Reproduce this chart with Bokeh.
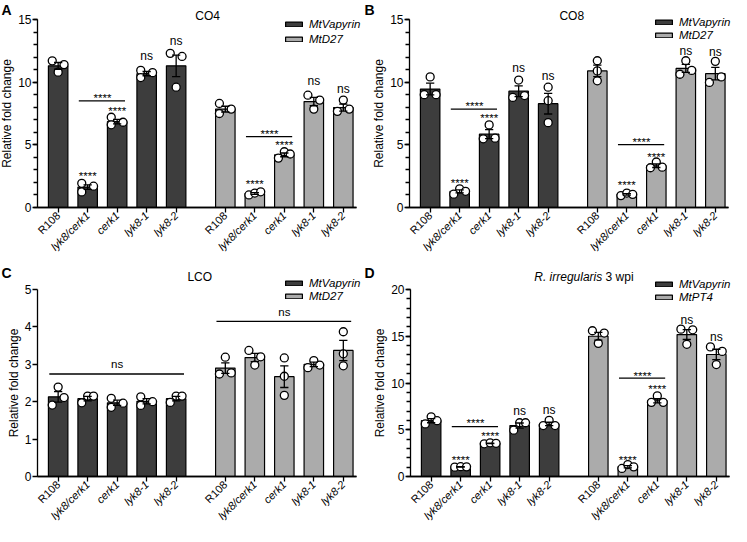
import math
from bokeh.plotting import figure
from bokeh.models import (Range1d, FixedTicker, SingleIntervalTicker, Label, Legend, LegendItem, LinearAxis)
from bokeh.layouts import row, column
from bokeh.embed import file_html
from bokeh.resources import INLINE

FONT = "Liberation Sans"
DARK = "#3d3d3d"
LIGHT = "#ababab"

CATEGORIES = ["R108", "lyk8/cerk1", "cerk1", "lyk8-1", "lyk8-2"]
CATEGORY_ITALIC = [False, True, True, True, True]

# ---------------- Panel A : CO4 ----------------
A_title = [("CO4", "normal")]
A_series = ["MtVapyrin", "MtD27"]
A_vap_mean = [11.3, 1.63, 6.85, 10.68, 11.3]
A_vap_sem = [0.27, 0.18, 0.18, 0.17, 0.86]
A_vap_points = [[11.7, 10.8, 11.4], [1.93, 1.24, 1.7], [7.2, 6.6, 6.8], [10.94, 10.37, 10.76], [12.3, 9.6, 12.05]]
A_vap_jitter = [[-1, 0, 1], [-1, -1, 1], [-1, -1, 1], [-1, -1, 1], [-1, 0, 1]]
A_d27_mean = [7.85, 1.12, 4.2, 8.45, 7.97]
A_d27_sem = [0.23, 0.07, 0.15, 0.33, 0.28]
A_d27_points = [[8.3, 7.5, 7.85], [1.0, 1.15, 1.25], [3.94, 4.45, 4.27], [8.96, 7.85, 8.57], [8.57, 7.67, 7.85]]
A_d27_jitter = [[-1, -1, 1], [-1, 0, 1], [-1, 0, 1], [-1, 0, 1], [0, -1, 1]]
A_stars = [(1, 2.7), (2, 7.93), (6, 2.08), (7, 5.22)]
A_ns = [(3, 12.05), (4, 13.26), (8, 10.12), (9, 9.47)]
A_brackets = [(1, 2, 8.5, "****", 8.96), (6, 7, 5.66, "****", 6.12)]

# ---------------- Panel B : CO8 ----------------
B_title = [("CO8", "normal")]
B_series = ["MtVapyrin", "MtD27"]
B_vap_mean = [9.45, 1.28, 5.85, 9.28, 8.28]
B_vap_sem = [0.47, 0.12, 0.36, 0.43, 0.82]
B_vap_points = [[10.42, 9.0, 9.0], [1.06, 1.49, 1.29], [6.59, 5.48, 5.53], [10.17, 8.78, 8.93], [9.6, 8.52, 6.77]]
B_vap_jitter = [[0, -1, 1], [-1, 0, 1], [0, -1, 1], [0, -1, 1], [0, 0, 0]]
B_d27_mean = [10.9, 1.05, 3.33, 11.1, 10.68]
B_d27_sem = [0.46, 0.06, 0.14, 0.32, 0.5]
B_d27_points = [[11.71, 10.9, 10.11], [0.95, 1.15, 1.05], [3.17, 3.63, 3.22], [11.71, 10.63, 10.94], [11.66, 9.98, 10.42]]
B_d27_jitter = [[0, 0, 0], [-1, 0, 1], [-1, 0, 1], [0, -1, 1], [0, -1, 1]]
B_stars = [(1, 2.19), (2, 7.34), (6, 2.0), (7, 4.27)]
B_ns = [(3, 11.1), (4, 10.5), (8, 12.5), (9, 12.4)]
B_brackets = [(1, 2, 7.85, "****", 8.3), (6, 7, 5.02, "****", 5.48)]

# ---------------- Panel C : LCO ----------------
C_title = [("LCO", "normal")]
C_series = ["MtVapyrin", "MtD27"]
C_vap_mean = [2.13, 2.08, 1.97, 2.01, 2.08]
C_vap_sem = [0.14, 0.06, 0.07, 0.07, 0.06]
C_vap_points = [[2.39, 1.91, 2.11], [1.97, 2.15, 2.15], [2.09, 1.85, 1.96], [2.13, 1.9, 2.0], [1.98, 2.15, 2.15]]
C_vap_jitter = [[0, -1, 1], [-1, 0, 1], [-1, -1, 1], [-1, -1, 1], [-1, 0, 1]]
C_d27_mean = [2.9, 3.18, 2.67, 3.0, 3.37]
C_d27_sem = [0.14, 0.11, 0.29, 0.06, 0.27]
C_d27_points = [[3.19, 2.74, 2.77], [3.37, 2.98, 3.2], [3.17, 2.68, 2.17], [2.91, 3.1, 2.98], [3.87, 3.28, 2.96]]
C_d27_jitter = [[0, -1, 1], [-1, 0, 1], [0, 0, 0], [-1, 0, 1], [0, 0, 0]]
C_stars = []
C_ns = []
C_brackets = [(0, 4, 2.74, "ns", 3.02), (5, 9, 4.15, "ns", 4.41)]

# ---------------- Panel D : R. irregularis 3 wpi ----------------
D_title = [("R. irregularis", "italic"), ("\u00a03 wpi", "normal")]
D_series = ["MtVapyrin", "MtPT4"]
D_vap_mean = [5.97, 1.03, 3.55, 5.45, 5.62]
D_vap_sem = [0.22, 0.03, 0.03, 0.27, 0.18]
D_vap_points = [[6.38, 5.62, 5.97], [1.0, 1.05, 1.03], [3.5, 3.6, 3.55], [4.95, 5.75, 5.75], [5.45, 6.0, 5.45]]
D_vap_jitter = [[0, -1, 1], [-1, 0, 1], [-1, 0, 1], [-1, 0, 1], [-1, 0, 1]]
D_pt4_mean = [15.0, 1.05, 8.1, 15.18, 13.05]
D_pt4_sem = [0.41, 0.12, 0.23, 0.53, 0.56]
D_pt4_points = [[15.59, 14.24, 15.34], [0.86, 1.28, 1.03], [7.93, 8.62, 7.93], [15.76, 14.14, 15.69], [13.86, 11.97, 13.38]]
D_pt4_jitter = [[-1, 0, 1], [-1, 0, 1], [-1, 0, 1], [-1, 0, 1], [-1, 0, 1]]
D_stars = [(1, 2.07), (2, 4.66), (6, 2.07), (7, 9.66)]
D_ns = [(3, 6.97), (4, 7.14), (8, 16.7), (9, 14.93)]
D_brackets = [(1, 2, 5.34, "****", 5.97), (6, 7, 10.52, "****", 11.03)]

# ---------------- layout constants ----------------
POS = [0, 3, 6, 9, 12, 17, 20, 23, 26, 29]   # category slots (3 units per bar step)
X0, X1 = -2.1, 30.33                          # x-axis extent in data units
PPX = 29.5 / 3                                # pixels per x unit
JIT = 0.6
BAR_W = 1.98
CAP = 0.42


def make_panel(letter, title, series, m1, s1, pts1, jit1, m2, s2, pts2, jit2,
               ymax, major, nminor, stars, ns, brackets,
               W, H, ax_px, y0_px, ytop_px, letter_y, title_cy, title_x,
               leg_x, leg_c1, leg_gap):
    ppu = (y0_px - ytop_px) / ymax
    xr = Range1d(X0 - ax_px / PPX, X0 + (W - ax_px) / PPX)
    yr = Range1d(-(H - y0_px) / ppu, ymax + ytop_px / ppu)
    p = figure(width=W, height=H, x_range=xr, y_range=yr, x_axis_type=None, y_axis_type=None,
               output_backend="svg", toolbar_location=None, title=None,
               min_border_left=0, min_border_right=0, min_border_top=0, min_border_bottom=0)
    p.xgrid.visible = False
    p.ygrid.visible = False
    p.outline_line_color = None
    p.background_fill_color = "white"
    p.border_fill_color = "white"

    def py_(px_from_top):  # canvas pixel row -> data y
        return ymax + (ytop_px - px_from_top) / ppu

    r1 = p.vbar(x=POS[:5], top=m1, bottom=0, width=BAR_W, fill_color=DARK,
                line_color="black", line_width=1.2)
    r2 = p.vbar(x=POS[5:], top=m2, bottom=0, width=BAR_W, fill_color=LIGHT,
                line_color="black", line_width=1.2)

    for pos, pts, jit in ((POS[:5], pts1, jit1), (POS[5:], pts2, jit2)):
        px = [pos[i] + JIT * jit[i][k] for i in range(5) for k in range(3)]
        py = [pts[i][k] for i in range(5) for k in range(3)]
        p.scatter(px, py, marker="circle", size=8, fill_color="white",
                  line_color="black", line_width=1.3)

    for pos, m, s in ((POS[:5], m1, s1), (POS[5:], m2, s2)):
        lo = [a - b for a, b in zip(m, s)]
        hi = [a + b for a, b in zip(m, s)]
        p.segment(x0=pos, y0=lo, x1=pos, y1=hi, line_color="black", line_width=1.3)
        p.segment(x0=[x - CAP for x in pos], y0=hi, x1=[x + CAP for x in pos], y1=hi,
                  line_color="black", line_width=1.3)
        p.segment(x0=[x - CAP for x in pos], y0=lo, x1=[x + CAP for x in pos], y1=lo,
                  line_color="black", line_width=1.3)

    # significance annotations
    star_shift = 2.8 / ppu
    for (i, j, y, txt, ty) in brackets:
        p.segment(x0=[POS[i] - 0.9], y0=[y], x1=[POS[j] + 0.8], y1=[y],
                  line_color="black", line_width=1.3)
        ty2 = ty - star_shift if txt.startswith("*") else ty
        p.add_layout(Label(x=(POS[i] + POS[j]) / 2, y=ty2, text=txt, text_align="center",
                           text_baseline="middle", text_font=FONT, text_font_size="11.5px",
                           text_color="black"))
    for (i, y) in stars:
        p.add_layout(Label(x=POS[i], y=y - star_shift, text="****", text_align="center",
                           text_baseline="middle", text_font=FONT, text_font_size="11.5px",
                           text_color="black"))
    for (i, y) in ns:
        p.add_layout(Label(x=POS[i], y=y, text="ns", text_align="center",
                           text_baseline="middle", text_font=FONT, text_font_size="12px",
                           text_color="black"))

    # y axis at a fixed location
    ya = LinearAxis(fixed_location=X0, bounds=(0, ymax),
                    ticker=SingleIntervalTicker(interval=major, num_minor_ticks=nminor))
    ya.axis_line_width = 1.3
    ya.major_tick_line_width = 1.3
    ya.minor_tick_line_width = 1.3
    ya.major_tick_out = 5
    ya.major_tick_in = 0
    ya.minor_tick_out = 4
    ya.minor_tick_in = 0
    ya.major_label_standoff = 1
    ya.major_label_text_font = FONT
    ya.major_label_text_font_size = "12px"
    ya.major_label_text_color = "black"
    ya.axis_label = "Relative fold change"
    ya.axis_label_text_font = FONT
    ya.axis_label_text_font_size = "12px"
    ya.axis_label_text_font_style = "normal"
    ya.axis_label_text_color = "black"
    ya.axis_label_standoff = 1
    p.add_layout(ya, "left")

    # x axes at y=0: one for the wild type (upright), one for the mutants (italic)
    for italic in (False, True):
        ticks = [POS[i] for i in range(10) if CATEGORY_ITALIC[i % 5] == italic]
        names = {POS[i]: CATEGORIES[i % 5] for i in range(10) if CATEGORY_ITALIC[i % 5] == italic}
        xa = LinearAxis(fixed_location=0, bounds=(X0, X1), ticker=FixedTicker(ticks=ticks),
                        major_label_overrides=names)
        xa.major_label_orientation = math.pi / 4
        xa.major_label_text_font = FONT
        xa.major_label_text_font_size = "11px"
        xa.major_label_text_font_style = "italic" if italic else "normal"
        xa.major_label_text_color = "black"
        xa.major_label_standoff = 1
        xa.major_tick_out = 5
        xa.major_tick_in = 0
        xa.minor_tick_line_color = None
        xa.axis_line_width = 1.3
        xa.major_tick_line_width = 1.3
        p.add_layout(xa, "below")

    # panel letter
    p.add_layout(Label(x=1, y=H - letter_y, x_units="screen", y_units="screen", text=letter,
                       text_align="left", text_baseline="top", text_font=FONT,
                       text_font_size="14px", text_font_style="bold", text_color="black"))

    # title
    ty = py_(title_cy)
    if len(title) == 1:
        p.add_layout(Label(x=title_x, y=ty, text=title[0][0], text_align="center",
                           text_baseline="middle", text_font=FONT, text_font_size="12px",
                           text_font_style=title[0][1], text_color="black"))
    else:
        p.add_layout(Label(x=title_x, y=ty, text=title[0][0], text_align="right",
                           text_baseline="middle", text_font=FONT, text_font_size="12px",
                           text_font_style=title[0][1], text_color="black"))
        p.add_layout(Label(x=title_x, y=ty, text=title[1][0], text_align="left",
                           text_baseline="middle", text_font=FONT, text_font_size="12px",
                           text_font_style=title[1][1], text_color="black"))

    # legend
    item_h = 13
    spacing = leg_gap - item_h
    leg_h = 2 * item_h + spacing
    top_px = ytop_px + leg_c1 - item_h / 2
    legend = Legend(items=[LegendItem(label=series[0], renderers=[r1]),
                           LegendItem(label=series[1], renderers=[r2])],
                    location=(leg_x, H - top_px - leg_h),
                    orientation="vertical", spacing=spacing, padding=0, margin=0,
                    border_line_color=None, background_fill_alpha=0,
                    label_text_font=FONT, label_text_font_style="italic",
                    label_text_font_size="11.5px", label_text_color="black",
                    label_height=item_h, glyph_width=21, glyph_height=6, label_standoff=5)
    p.add_layout(legend)
    return p


pA = make_panel("A", A_title, A_series, A_vap_mean, A_vap_sem, A_vap_points, A_vap_jitter,
                A_d27_mean, A_d27_sem, A_d27_points, A_d27_jitter,
                15, 5, 5, A_stars, A_ns, A_brackets,
                W=363, H=256, ax_px=37, y0_px=207, ytop_px=19, letter_y=1, title_cy=15,
                title_x=15.2, leg_x=283, leg_c1=4.7, leg_gap=15)
pB = make_panel("B", B_title, B_series, B_vap_mean, B_vap_sem, B_vap_points, B_vap_jitter,
                B_d27_mean, B_d27_sem, B_d27_points, B_d27_jitter,
                15, 5, 5, B_stars, B_ns, B_brackets,
                W=368, H=256, ax_px=46, y0_px=207, ytop_px=19, letter_y=1, title_cy=15,
                title_x=14.4, leg_x=290, leg_c1=3, leg_gap=13)
pC = make_panel("C", C_title, C_series, C_vap_mean, C_vap_sem, C_vap_points, C_vap_jitter,
                C_d27_mean, C_d27_sem, C_d27_points, C_d27_jitter,
                5, 1, 0, C_stars, C_ns, C_brackets,
                W=363, H=270, ax_px=37, y0_px=220, ytop_px=33, letter_y=8, title_cy=20,
                title_x=14.4, leg_x=283, leg_c1=-6, leg_gap=13)
pD = make_panel("D", D_title, D_series, D_vap_mean, D_vap_sem, D_vap_points, D_vap_jitter,
                D_pt4_mean, D_pt4_sem, D_pt4_points, D_pt4_jitter,
                20, 5, 5, D_stars, D_ns, D_brackets,
                W=368, H=270, ax_px=47, y0_px=220, ytop_px=33, letter_y=8, title_cy=20,
                title_x=17.4, leg_x=290, leg_c1=-4.7, leg_gap=13)

layout = column(row(pA, pB), row(pC, pD))
open("out.html", "w").write(file_html(layout, INLINE))
